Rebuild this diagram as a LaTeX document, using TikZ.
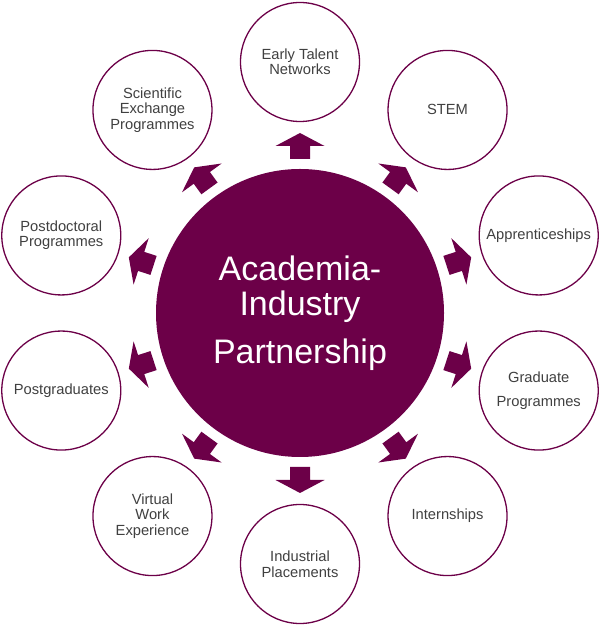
\documentclass[tikz,border=0pt]{standalone}
\usepackage{fontspec}
\setmainfont{Liberation Sans}
\usetikzlibrary{calc}
\definecolor{plum}{HTML}{6C0048}
\definecolor{txt}{HTML}{404040}
\begin{document}
\begin{tikzpicture}[x=1pt,y=1pt,
  hub/.style={circle, fill=plum, minimum size=288pt, inner sep=0pt, text=white, align=center,
    font=\fontsize{34}{35}\selectfont},
  spoke/.style={circle, draw=plum, line width=1.3pt, fill=white, minimum size=119pt, inner sep=0pt,
    text=txt, align=center, font=\fontsize{14.7}{15.5}\selectfont},
  blockarrow/.style={fill=plum}]
\useasboundingbox (0,0) rectangle (600,626);
\node[hub] (c) at (300,313) {Academia-\\Industry\\[13pt]Partnership};
\foreach \i/\a/\t in {
  1/90/{Early Talent\\Networks},
  2/54/{STEM},
  3/18/{Apprenticeships},
  4/-18/{Graduate\\[9pt]Programmes},
  5/-54/{Internships},
  6/-90/{Industrial\\Placements},
  7/-126/{Virtual\\Work\\Experience},
  8/-162/{Postgraduates},
  9/162/{Postdoctoral\\Programmes},
  10/126/{Scientific\\Exchange\\Programmes}}{
  \node[spoke] (o\i) at ($(c.center)+(\a:251)$) {\t};
  \begin{scope}[shift={(c.center)}, rotate=\a]
    \fill[blockarrow] (154,-10) -- (167,-10) -- (167,-24.5) -- (180,0) -- (167,24.5) -- (167,10) -- (154,10) -- cycle;
  \end{scope}
}
\end{tikzpicture}
\end{document}
